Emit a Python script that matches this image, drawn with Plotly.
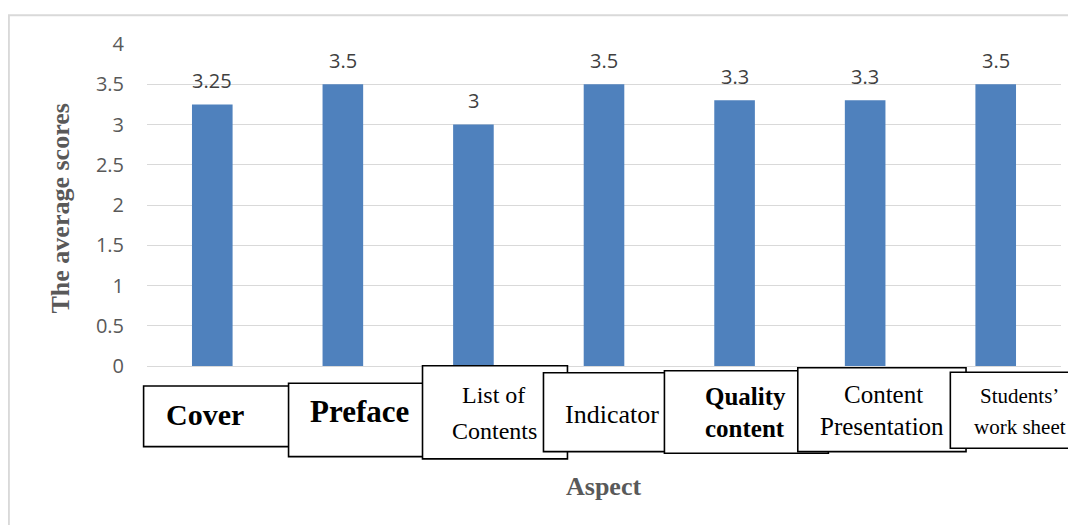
import plotly.graph_objects as go

# ---------------- data ----------------
categories = ["Cover", "Preface", "List of Contents", "Indicator",
              "Quality content", "Content Presentation", "Students' work sheet"]
scores = [3.25, 3.5, 3.0, 3.5, 3.3, 3.3, 3.5]
score_labels = ["3.25", "3.5", "3", "3.5", "3.3", "3.3", "3.5"]
# lines shown in the boxed category labels
label_lines = [["Cover"], ["Preface"], ["List of", "Contents"], ["Indicator"],
               ["Quality", "content"], ["Content", "Presentation"],
               ["Students\u2019", "work sheet"]]
y_ticks = [0, 0.5, 1, 1.5, 2, 2.5, 3, 3.5, 4]
y_tick_text = ["0", "0.5", "1", "1.5", "2", "2.5", "3", "3.5", "4"]

# ---------------- layout geometry (page pixels) ----------------
OX, OY = 8, 8                      # default page body margin
PAGE_W, PAGE_H = 1076, 525
W, H = PAGE_W - OX, PAGE_H - OY    # figure size
PL, PR, PT, PB = 146.7, 1061, 43.7, 366   # plot area in page pixels
L, R, T, B = PL - OX, PAGE_W - PR, PT - OY, PAGE_H - PB
PW = PR - PL
PH = PB - PT


def px(x):
    return (x - PL) / PW


def py(y):
    return (PB - y) / PH


# label boxes: left, right, top, bottom (page pixels), drawn in order
boxes = [(143.3, 300, 386, 446.7), (288.3, 430, 383.3, 456.7),
         (422.3, 567.3, 365.7, 459), (543.3, 668, 372.7, 451.7),
         (664.3, 828.3, 370.7, 453.3), (797.7, 966, 367.7, 451.7),
         (950.3, 1075, 372.3, 448.3)]
# text placement per box: list of (center x, center y) per line, font size, bold
text_pos = [([(205, 415)], 30, True),
            ([(359, 412)], 31, True),
            ([(493, 395), (494, 431.5)], 24, False),
            ([(612, 415)], 26, False),
            ([(745, 396.5), (745, 428.5)], 25, True),
            ([(883, 394.5), (881.5, 426.5)], 25, False),
            ([(1019.5, 396.5), (1020.3, 426.7)], 21, False)]

fig = go.Figure()
fig.add_trace(go.Bar(
    x=categories, y=scores,
    marker=dict(color="#4f81bd", line=dict(width=0)),
    hoverinfo="x+y",
))

shapes = []
# outer chart border
shapes.append(dict(type="rect", xref="paper", yref="paper",
                   x0=px(8.5), x1=px(1085), y0=py(15), y1=py(540),
                   line=dict(color="#d9d9d9", width=2), fillcolor="rgba(0,0,0,0)",
                   layer="below"))
for (l, r, t, b) in boxes:
    shapes.append(dict(type="rect", xref="paper", yref="paper",
                       x0=px(l), x1=px(r), y0=py(b), y1=py(t),
                       line=dict(color="#000000", width=1.6), fillcolor="#ffffff",
                       layer="above"))

annotations = []
# data labels above bars
for c, v, s in zip(categories, scores, score_labels):
    annotations.append(dict(x=c, y=v, xref="x", yref="y", text=s, showarrow=False,
                            xanchor="center", yanchor="middle", yshift=24,
                            font=dict(family="Open Sans", size=20, color="#404040")))
# boxed category labels
for lines, (pos, size, bold) in zip(label_lines, text_pos):
    for line, (cx, cy) in zip(lines, pos):
        txt = f"<b>{line}</b>" if bold else line
        annotations.append(dict(x=px(cx), y=py(cy), xref="paper", yref="paper",
                                text=txt, showarrow=False, xanchor="center",
                                yanchor="middle",
                                font=dict(family="Liberation Serif", size=size,
                                          color="#000000")))
# axis titles
annotations.append(dict(x=px(60), y=py(208), xref="paper", yref="paper",
                        text="<b>The average scores</b>", textangle=-90,
                        showarrow=False, xanchor="center", yanchor="middle",
                        font=dict(family="Liberation Serif", size=26, color="#595959")))
annotations.append(dict(x=px(603.5), y=py(487), xref="paper", yref="paper",
                        text="<b>Aspect</b>", showarrow=False,
                        xanchor="center", yanchor="middle",
                        font=dict(family="Liberation Serif", size=26, color="#595959")))

fig.update_layout(
    width=W, height=H, autosize=False,
    margin=dict(l=L, r=R, t=T, b=B, pad=0),
    paper_bgcolor="#ffffff", plot_bgcolor="#ffffff",
    bargap=0.689,
    showlegend=False,
    shapes=shapes,
    annotations=annotations,
    xaxis=dict(showticklabels=False, showgrid=False, zeroline=False,
               showline=False, ticks=""),
    yaxis=dict(range=[0, 4], tickvals=y_ticks, ticktext=y_tick_text,
               showgrid=True, gridcolor="#d9d9d9", gridwidth=1.3,
               zeroline=True, zerolinecolor="#d9d9d9", zerolinewidth=1.3,
               showline=False, ticks="", ticklabelstandoff=22,
               tickfont=dict(family="Open Sans", size=20, color="#595959")),
)

fig.write_html("out.html")
